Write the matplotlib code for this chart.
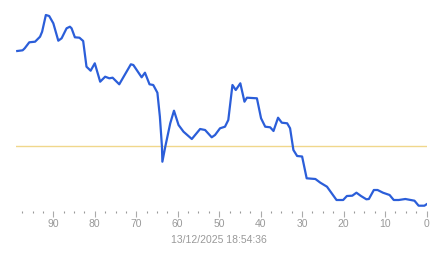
import matplotlib
matplotlib.use("Agg")
import matplotlib.pyplot as plt
from matplotlib.ticker import MultipleLocator

# Seconds ago (x) and measured value (y, arbitrary units)
seconds_ago = [98.7, 97.4, 96.9, 95.8, 94.4, 93.2, 92.7, 91.8, 91.0, 90.0,
               88.8, 88.0, 86.8, 86.0, 85.6, 84.8, 83.7, 82.8, 82.0, 81.0,
               80.0, 78.7, 77.5, 76.5, 75.7, 74.1, 71.3, 70.7, 68.7, 67.9,
               66.8, 65.9, 64.9, 64.3, 63.8, 63.7, 63.0, 61.8, 60.9, 59.8,
               58.6, 56.6, 54.6, 53.4, 51.8, 51.0, 49.8, 48.6, 47.8, 46.8,
               46.0, 44.9, 43.9, 43.3, 40.9, 39.9, 38.9, 37.7, 36.9, 35.8,
               34.9, 33.6, 32.9, 32.1, 31.2, 30.0, 28.9, 26.8, 25.6, 24.0,
               21.7, 20.1, 19.2, 17.9, 16.9, 15.8, 14.5, 13.9, 12.7, 11.8,
               10.5, 8.9, 7.9, 6.7, 5.1, 2.9, 1.9, 0.5, 0.0]
values = [160.0, 160.7, 162.7, 168.7, 169.3, 174.3, 179.3, 196.0, 195.0, 187.7,
          170.3, 172.7, 182.7, 184.3, 182.7, 173.7, 173.3, 170.0, 144.3, 140.3,
          147.7, 129.3, 134.3, 132.7, 133.3, 126.7, 146.7, 146.0, 133.7, 138.3,
          126.7, 126.0, 118.3, 94.3, 64.3, 49.3, 64.3, 87.7, 100.3, 86.0,
          79.3, 72.0, 82.0, 81.0, 73.7, 76.0, 82.7, 84.3, 91.0, 126.0,
          121.0, 127.7, 109.3, 113.3, 112.7, 92.7, 84.3, 83.7, 80.0, 93.3,
          88.3, 87.7, 82.7, 61.0, 55.0, 54.5, 32.7, 32.0, 28.3, 24.3,
          11.0, 11.0, 15.0, 15.3, 18.3, 15.0, 11.7, 12.0, 21.0, 21.0,
          18.3, 16.0, 11.0, 11.0, 12.0, 10.3, 5.3, 5.3, 6.7]
threshold = 65
x_major = [90, 80, 70, 60, 50, 40, 30, 20, 10, 0]
timestamp = "13/12/2025 18:54:36"

W, H = 443, 258
fig = plt.figure(figsize=(W / 100, H / 100), dpi=100)
ax = fig.add_axes([16 / W, 1 - 211 / H, (426.5 - 16) / W, 201 / H])
ax.set_xlim(99, 0)
ax.set_ylim(0, 201)

ax.axhline(threshold, color="#f0d78c", lw=1.0, zorder=1)
ax.plot(seconds_ago, values, color="#2b5ed9", lw=1.6, solid_joinstyle="round", zorder=2)

for s in ax.spines.values():
    s.set_visible(False)
ax.set_yticks([])
ax.set_xticks(x_major)
ax.set_xticklabels([str(v) for v in x_major])
ax.xaxis.set_minor_locator(MultipleLocator(2.5))
ax.tick_params(axis="x", which="major", length=4, width=0.8, color="#aaaaaa",
               labelsize=7.5, labelcolor="#999999", pad=1.5)
ax.tick_params(axis="x", which="minor", length=1.5, width=0.8, color="#999999")
for lab in ax.get_xticklabels():
    lab.set_fontfamily("Liberation Sans")

fig.text(219 / W, 1 - 240 / H, timestamp, ha="center", va="center",
         fontsize=7.5, color="#999999", family="Liberation Sans")

fig.savefig("out.png", dpi=100, facecolor="white")
